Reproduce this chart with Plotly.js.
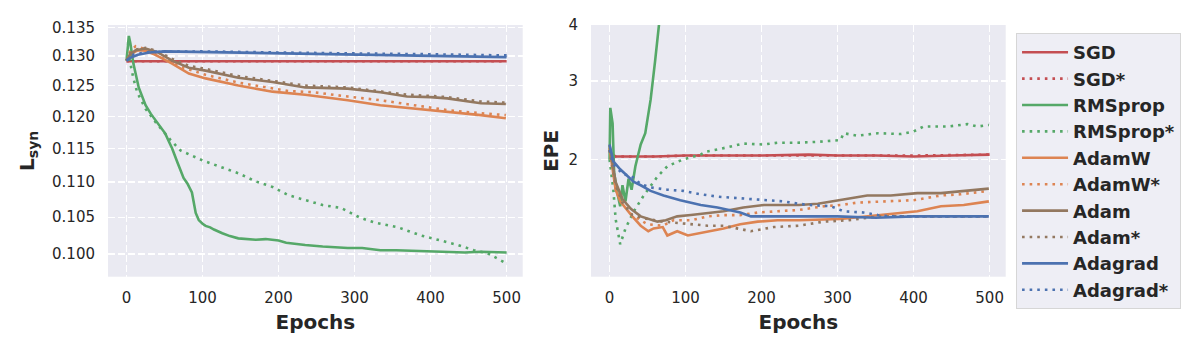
<!DOCTYPE html>
<html>
<head>
<meta charset="utf-8">
<script src="https://cdn.plot.ly/plotly-3.0.1.min.js"></script>
<style>html,body{margin:0;padding:0;background:#fff;}#chart{width:1200px;height:350px;}</style>
</head>
<body>
<div id="chart"></div>
<script>
// ---------- Data: left panel (L_syn) ----------
const names = ["SGD","SGD*","RMSprop","RMSprop*","AdamW","AdamW*","Adam","Adam*","Adagrad","Adagrad*"];

const lsynSgdX = [0, 50, 100, 200, 300, 400, 500];
const lsynSgdY = [0.1291, 0.1291, 0.1291, 0.1291, 0.1291, 0.1291, 0.1291];
const lsynSgdStarX = [0, 50, 100, 200, 300, 400, 500];
const lsynSgdStarY = [0.1291, 0.1291, 0.1291, 0.1291, 0.1291, 0.1291, 0.1291];

const lsynRmsX = [0, 2, 3, 5, 9, 16, 25, 32, 38, 45, 51, 56, 60, 67, 75, 80, 86, 91, 95, 100, 104, 110, 115, 126, 136, 147, 160, 170, 183, 200, 210, 218, 235, 258, 275, 291, 310, 334, 355, 378, 400, 422, 445, 466, 485, 500];
const lsynRmsY = [0.1292, 0.1315, 0.1335, 0.1322, 0.1287, 0.1247, 0.1218, 0.1204, 0.1194, 0.1184, 0.1173, 0.1160, 0.1150, 0.1129, 0.1106, 0.1098, 0.1085, 0.1056, 0.1046, 0.1041, 0.1038, 0.1036, 0.1033, 0.1028, 0.1024, 0.1021, 0.1020, 0.1019, 0.1020, 0.1018, 0.1015, 0.1014, 0.1012, 0.1010, 0.1009, 0.1008, 0.1008, 0.1005, 0.1005, 0.1004, 0.1004, 0.1003, 0.1002, 0.1003, 0.1002, 0.1002];
const lsynRmsStarX = [0, 3, 9, 14, 25, 40, 58, 71, 100, 126, 147, 170, 192, 213, 235, 258, 282, 308, 325, 357, 387, 409, 436, 457, 475, 499];
const lsynRmsStarY = [0.1292, 0.1300, 0.1262, 0.1239, 0.1212, 0.1188, 0.1163, 0.1147, 0.1132, 0.1122, 0.1113, 0.1101, 0.1093, 0.1081, 0.1074, 0.1067, 0.1063, 0.1049, 0.1043, 0.1036, 0.1025, 0.1019, 0.1012, 0.1005, 0.1001, 0.0988];

const lsynAdamWX = [0, 5, 15, 25, 38, 60, 82, 104, 147, 192, 235, 262, 291, 334, 378, 422, 466, 499];
const lsynAdamWY = [0.1292, 0.1303, 0.1310, 0.1309, 0.1302, 0.1287, 0.1270, 0.1262, 0.1250, 0.1240, 0.1235, 0.1231, 0.1226, 0.1218, 0.1213, 0.1207, 0.1202, 0.1197];
const lsynAdamWStarX = [0, 5, 12, 25, 45, 70, 104, 147, 213, 246, 291, 334, 378, 422, 466, 499];
const lsynAdamWStarY = [0.1292, 0.1308, 0.1317, 0.1312, 0.1298, 0.1282, 0.1268, 0.1255, 0.1241, 0.1239, 0.1232, 0.1226, 0.1218, 0.1210, 0.1205, 0.1202];

const lsynAdamX = [0, 5, 12, 25, 40, 60, 82, 104, 147, 192, 235, 262, 291, 334, 369, 400, 422, 466, 499];
const lsynAdamY = [0.1292, 0.1303, 0.1310, 0.1313, 0.1307, 0.1292, 0.1280, 0.1275, 0.1263, 0.1256, 0.1247, 0.1246, 0.1245, 0.1239, 0.1232, 0.1231, 0.1229, 0.1221, 0.1220];
const lsynAdamStarX = [0, 5, 12, 25, 40, 60, 82, 104, 147, 192, 235, 291, 334, 369, 400, 422, 466, 499];
const lsynAdamStarY = [0.1292, 0.1305, 0.1311, 0.1314, 0.1309, 0.1295, 0.1283, 0.1278, 0.1266, 0.1258, 0.1250, 0.1247, 0.1241, 0.1235, 0.1233, 0.1231, 0.1224, 0.1222];

const lsynAdagradX = [0, 5, 15, 30, 50, 100, 150, 200, 250, 300, 350, 400, 450, 500];
const lsynAdagradY = [0.1292, 0.1297, 0.1302, 0.1306, 0.1308, 0.1307, 0.1305, 0.1304, 0.1303, 0.1302, 0.1301, 0.1300, 0.1299, 0.1298];
const lsynAdagradStarX = [0, 10, 30, 100, 200, 300, 400, 500];
const lsynAdagradStarY = [0.1292, 0.1303, 0.1307, 0.1308, 0.1306, 0.1305, 0.1303, 0.1301];

// ---------- Data: right panel (EPE) ----------
const epeSgdX = [0, 3, 8, 30, 60, 100, 150, 200, 262, 300, 350, 400, 450, 500];
const epeSgdY = [2.10, 2.05, 2.03, 2.03, 2.03, 2.04, 2.04, 2.04, 2.05, 2.04, 2.04, 2.03, 2.04, 2.05];
const epeSgdStarX = [0, 3, 8, 30, 60, 100, 150, 200, 300, 400, 500];
const epeSgdStarY = [2.10, 2.05, 2.03, 2.03, 2.03, 2.04, 2.04, 2.04, 2.04, 2.04, 2.05];

const epeRmsX = [0, 1, 4, 6, 10, 14, 17, 21, 25, 29, 34, 41, 47, 54, 60, 64, 70, 76];
const epeRmsY = [2.00, 2.61, 2.41, 1.87, 1.69, 1.57, 1.75, 1.61, 1.81, 1.71, 1.93, 2.16, 2.29, 2.72, 3.33, 3.99, 4.9, 6.0];
const epeRmsStarX = [0, 5, 8, 12, 14, 21, 32, 45, 63, 76, 97, 120, 126, 150, 176, 203, 221, 247, 274, 304, 308, 326, 353, 383, 400, 413, 445, 471, 484, 499];
const epeRmsStarY = [2.00, 1.71, 1.47, 1.35, 1.29, 1.40, 1.53, 1.66, 1.83, 1.93, 2.00, 2.05, 2.08, 2.12, 2.17, 2.16, 2.18, 2.18, 2.19, 2.21, 2.29, 2.26, 2.29, 2.28, 2.31, 2.37, 2.37, 2.40, 2.37, 2.39];

const epeAdamWX = [0, 8, 14, 24, 30, 41, 51, 58, 70, 76, 89, 103, 124, 150, 172, 195, 221, 249, 304, 339, 370, 405, 436, 466, 499];
const epeAdamWY = [2.12, 1.71, 1.61, 1.53, 1.49, 1.42, 1.38, 1.40, 1.41, 1.35, 1.38, 1.35, 1.37, 1.40, 1.43, 1.45, 1.46, 1.46, 1.47, 1.49, 1.51, 1.53, 1.57, 1.58, 1.61];
const epeAdamWStarX = [0, 8, 16, 30, 50, 70, 84, 107, 129, 150, 172, 195, 221, 249, 282, 304, 326, 361, 400, 436, 462, 499];
const epeAdamWStarY = [2.10, 1.72, 1.60, 1.50, 1.43, 1.42, 1.46, 1.46, 1.49, 1.50, 1.50, 1.52, 1.53, 1.54, 1.57, 1.58, 1.60, 1.61, 1.62, 1.66, 1.67, 1.70];

const epeAdamX = [0, 8, 17, 28, 41, 51, 63, 74, 89, 107, 124, 150, 176, 203, 229, 249, 274, 304, 339, 370, 405, 436, 466, 499];
const epeAdamY = [2.15, 1.78, 1.63, 1.55, 1.49, 1.47, 1.45, 1.46, 1.49, 1.50, 1.51, 1.53, 1.56, 1.58, 1.58, 1.58, 1.59, 1.62, 1.66, 1.66, 1.68, 1.68, 1.70, 1.72];
const epeAdamStarX = [0, 8, 17, 30, 50, 70, 90, 107, 129, 150, 186, 216, 249, 282, 313, 353, 400, 426, 460, 499];
const epeAdamStarY = [2.10, 1.75, 1.60, 1.50, 1.47, 1.45, 1.44, 1.43, 1.42, 1.42, 1.38, 1.41, 1.42, 1.45, 1.46, 1.49, 1.49, 1.49, 1.49, 1.49];

const epeAdagradX = [0, 5, 14, 24, 32, 41, 54, 71, 93, 120, 142, 172, 186, 216, 249, 300, 350, 400, 450, 499];
const epeAdagradY = [2.16, 1.98, 1.90, 1.83, 1.78, 1.75, 1.70, 1.66, 1.62, 1.58, 1.56, 1.52, 1.49, 1.49, 1.49, 1.49, 1.48, 1.49, 1.49, 1.49];
const epeAdagradStarX = [0, 5, 18, 28, 41, 54, 76, 97, 120, 142, 163, 186, 208, 229, 249, 264, 291, 308, 334, 353, 370, 420, 460, 499];
const epeAdagradStarY = [2.10, 1.95, 1.85, 1.84, 1.76, 1.73, 1.71, 1.70, 1.67, 1.65, 1.64, 1.63, 1.62, 1.61, 1.59, 1.58, 1.57, 1.53, 1.52, 1.50, 1.49, 1.49, 1.49, 1.49];

const lsynTickVals = [0.100, 0.105, 0.110, 0.115, 0.120, 0.125, 0.130, 0.135];
const lsynTickText = ["0.100", "0.105", "0.110", "0.115", "0.120", "0.125", "0.130", "0.135"];
const epeTickVals = [2, 3, 4];
const epeTickText = ["2", "3", "4"];
const epochTickVals = [0, 100, 200, 300, 400, 500];

// ---------- Build traces ----------
const colors = ["#c44e52","#c44e52","#55a868","#55a868","#dd8452","#dd8452","#937860","#937860","#4c72b0","#4c72b0"];
const leftSeries = [
  [lsynSgdX, lsynSgdY], [lsynSgdStarX, lsynSgdStarY],
  [lsynRmsX, lsynRmsY], [lsynRmsStarX, lsynRmsStarY],
  [lsynAdamWX, lsynAdamWY], [lsynAdamWStarX, lsynAdamWStarY],
  [lsynAdamX, lsynAdamY], [lsynAdamStarX, lsynAdamStarY],
  [lsynAdagradX, lsynAdagradY], [lsynAdagradStarX, lsynAdagradStarY]
];
const rightSeries = [
  [epeSgdX, epeSgdY], [epeSgdStarX, epeSgdStarY],
  [epeRmsX, epeRmsY], [epeRmsStarX, epeRmsStarY],
  [epeAdamWX, epeAdamWY], [epeAdamWStarX, epeAdamWStarY],
  [epeAdamX, epeAdamY], [epeAdamStarX, epeAdamStarY],
  [epeAdagradX, epeAdagradY], [epeAdagradStarX, epeAdagradStarY]
];

const traces = [];
names.forEach((n, i) => {
  const dotted = n.endsWith("*");
  const line = {color: colors[i], width: 2.6, dash: dotted ? "2.6px,5px" : "solid"};
  traces.push({x: leftSeries[i][0], y: leftSeries[i][1], name: n, legendgroup: n,
    type: "scatter", mode: "lines", line: line, xaxis: "x", yaxis: "y", showlegend: true});
});
names.forEach((n, i) => {
  const dotted = n.endsWith("*");
  const line = {color: colors[i], width: 2.6, dash: dotted ? "2.6px,5px" : "solid"};
  traces.push({x: rightSeries[i][0], y: rightSeries[i][1], name: n, legendgroup: n,
    type: "scatter", mode: "lines", line: line, xaxis: "x2", yaxis: "y2", showlegend: false});
});

const textColor = "#262626";
const font = {family: "DejaVu Sans, Liberation Sans, sans-serif", size: 15, color: textColor};

const xCommon = {
  range: [-24.4, 521.2], tickvals: epochTickVals, ticks: "", showline: false, zeroline: false,
  showgrid: true, gridcolor: "#ffffff", gridwidth: 1.2, griddash: "7px,3px",
  tickfont: {size: 15, color: textColor}, ticklabelstandoff: 10, automargin: false,
  title: {text: "Epochs", font: {size: 20, color: textColor, weight: "bold"}, standoff: 9}
};

const layout = {
  width: 1200, height: 350,
  margin: {l: 0, r: 0, t: 0, b: 0},
  paper_bgcolor: "#ffffff", plot_bgcolor: "#eaeaf2",
  font: font,
  showlegend: true,
  xaxis: Object.assign({}, xCommon, {domain: [0.09, 0.4356], anchor: "y"}),
  xaxis2: Object.assign({}, xCommon, {domain: [0.4925, 0.8381], anchor: "y2"}),
  yaxis: {
    domain: [0.2094, 0.9286], anchor: "x", type: "log",
    range: [Math.log10(0.09704), Math.log10(0.13545)],
    tickvals: lsynTickVals, ticktext: lsynTickText, ticks: "", zeroline: false, showline: false,
    showgrid: true, gridcolor: "#ffffff", gridwidth: 1.2, griddash: "7px,3px",
    tickfont: {size: 15, color: textColor}, ticklabelstandoff: 12, automargin: false,
    title: {text: "L<sub>syn</sub>", font: {size: 20, color: textColor, weight: "bold"}, standoff: 12}
  },
  yaxis2: {
    domain: [0.2094, 0.9286], anchor: "x2", type: "log",
    range: [Math.log10(1.091), Math.log10(4.005)],
    tickvals: epeTickVals, ticktext: epeTickText, ticks: "", zeroline: false, showline: false,
    showgrid: true, gridcolor: "#ffffff", gridwidth: 1.2, griddash: "7px,3px",
    tickfont: {size: 15, color: textColor}, ticklabelstandoff: 12, automargin: false,
    title: {text: "EPE", font: {size: 20, color: textColor, weight: "bold"}, standoff: 4}
  },
  legend: {
    x: 0.8467, y: 0.9057, xanchor: "left", yanchor: "top",
    bgcolor: "#eeeef5", bordercolor: "#d6d6d6", borderwidth: 1,
    font: {size: 18, color: textColor, weight: "bold"},
    traceorder: "grouped", tracegroupgap: 0, itemwidth: 46
  }
};

Plotly.newPlot("chart", traces, layout, {displayModeBar: false, staticPlot: true});
</script>
</body>
</html>
